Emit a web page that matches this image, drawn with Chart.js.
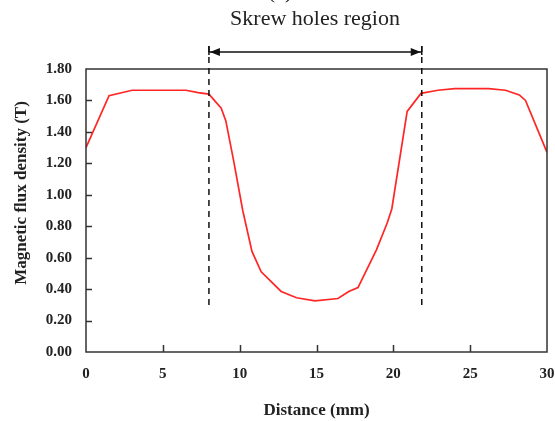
<!DOCTYPE html>
<html>
<head>
<meta charset="utf-8">
<script src="https://cdn.jsdelivr.net/npm/chart.js@4.4.0/dist/chart.umd.min.js"></script>
<style>
html, body { margin: 0; padding: 0; background: #fff; }
#wrap { width: 555px; height: 421px; }
</style>
</head>
<body>
<div id="wrap"><canvas id="fluxchart" width="555" height="421"></canvas></div>
<script>
var distance = [0, 1.5, 3.0, 6.5, 7.3, 8.0, 8.8, 9.1, 9.6, 10.2, 10.8, 11.4, 12.7, 13.7, 14.9,
                16.4, 17.1, 17.7, 18.9, 19.6, 19.9, 20.9, 21.8, 22.9, 24.0, 26.2, 27.3, 28.2, 28.6, 30.0];
var flux = [1.30, 1.63, 1.665, 1.665, 1.65, 1.64, 1.55, 1.47, 1.22, 0.90, 0.64, 0.51, 0.385, 0.345, 0.325,
            0.34, 0.385, 0.41, 0.65, 0.82, 0.91, 1.53, 1.645, 1.665, 1.675, 1.675, 1.665, 1.635, 1.60, 1.27];
var xTicks = [0, 5, 10, 15, 20, 25, 30];
var yTicks = [0, 0.2, 0.4, 0.6, 0.8, 1.0, 1.2, 1.4, 1.6, 1.8];

// skrew holes region markers
var regionStart = 8.0;
var regionEnd = 21.85;
var regionLow = 0.28;

var serif = '"Liberation Serif", "Times New Roman", serif';

const fluxCtx = document.querySelector('#fluxchart').getContext('2d');

const framePlugin = {
    id: 'frame',
    afterDraw(chart) {
        const ctx = chart.ctx;
        const area = chart.chartArea;
        const xs = chart.scales.x;
        const ys = chart.scales.y;
        ctx.save();

        // box round the plot
        ctx.strokeStyle = '#333';
        ctx.lineWidth = 1.5;
        ctx.strokeRect(area.left, area.top, area.right - area.left, area.bottom - area.top);

        // inward ticks
        ctx.beginPath();
        yTicks.slice(1, -1).forEach(function (v) {
            var py = Math.round(ys.getPixelForValue(v)) + 0.5;
            ctx.moveTo(area.left, py);
            ctx.lineTo(area.left + 6, py);
        });
        xTicks.slice(1, -1).forEach(function (v) {
            var px = Math.round(xs.getPixelForValue(v)) + 0.5;
            ctx.moveTo(px, area.bottom);
            ctx.lineTo(px, area.bottom - 7);
        });
        ctx.stroke();

        // dashed region lines
        var x1 = xs.getPixelForValue(regionStart);
        var x2 = xs.getPixelForValue(regionEnd);
        var yLow = ys.getPixelForValue(regionLow);
        ctx.strokeStyle = '#111';
        ctx.lineWidth = 1.5;
        ctx.setLineDash([6, 5]);
        ctx.beginPath();
        ctx.moveTo(x1, 46);
        ctx.lineTo(x1, yLow);
        ctx.moveTo(x2, 46);
        ctx.lineTo(x2, yLow);
        ctx.stroke();
        ctx.setLineDash([]);

        // double arrow
        var ay = 52;
        ctx.beginPath();
        ctx.moveTo(x1, ay);
        ctx.lineTo(x2, ay);
        ctx.moveTo(x1, 46);
        ctx.lineTo(x1, 55);
        ctx.moveTo(x2, 46);
        ctx.lineTo(x2, 55);
        ctx.stroke();
        ctx.fillStyle = '#111';
        ctx.beginPath();
        ctx.moveTo(x1 + 1, ay);
        ctx.lineTo(x1 + 11, ay - 4);
        ctx.lineTo(x1 + 11, ay + 4);
        ctx.closePath();
        ctx.moveTo(x2 - 1, ay);
        ctx.lineTo(x2 - 11, ay - 4);
        ctx.lineTo(x2 - 11, ay + 4);
        ctx.closePath();
        ctx.fill();

        // texts
        ctx.fillStyle = '#222';
        ctx.textAlign = 'center';
        ctx.textBaseline = 'middle';
        ctx.font = '22px ' + serif;
        ctx.fillText('Skrew holes region', 315, 19);
        ctx.textBaseline = 'alphabetic';
        ctx.fillText('(a)', 280, -2);

        ctx.translate(22, 193);
        ctx.rotate(-Math.PI / 2);
        ctx.textBaseline = 'middle';
        ctx.font = 'bold 17px ' + serif;
        ctx.fillText('Magnetic flux density (T)', 0, 0);
        ctx.restore();
    }
};

const fluxchart = new Chart(fluxCtx, {
    type: 'line',
    data: {
        datasets: [
            {
                label: 'Flux density',
                data: distance.map((d, i) => ({ x: d, y: flux[i] })),
                borderColor: '#ff2626',
                borderWidth: 1.7,
                pointRadius: 0,
                fill: false,
                tension: 0,
            },
        ],
    },
    options: {
        responsive: false,
        animation: false,
        layout: {
            padding: { top: 69, right: 0, left: 0, bottom: 0 }
        },
        plugins: {
            legend: { display: false },
            tooltip: { enabled: false }
        },
        scales: {
            x: {
                type: 'linear',
                min: 0,
                max: 30,
                afterBuildTicks: function (scale) {
                    scale.ticks = xTicks.map(v => ({ value: v }));
                },
                afterFit: function (scale) {
                    scale.height = 69;
                    scale.paddingRight = 8;
                },
                grid: { display: false, drawTicks: false },
                border: { display: false },
                ticks: {
                    padding: 13,
                    color: '#222',
                    maxRotation: 0,
                    font: { family: serif, size: 15, weight: 'bold' }
                },
                title: {
                    display: true,
                    text: 'Distance (mm)',
                    color: '#222',
                    padding: { top: 0, bottom: 0 },
                    font: { family: serif, size: 17, weight: 'bold' }
                }
            },
            y: {
                min: 0,
                max: 1.8,
                afterBuildTicks: function (scale) {
                    scale.ticks = yTicks.map(v => ({ value: v }));
                },
                afterFit: function (scale) { scale.width = 86; },
                grid: { display: false, drawTicks: false },
                border: { display: false },
                ticks: {
                    padding: 14,
                    color: '#222',
                    font: { family: serif, size: 15, weight: 'bold' },
                    callback: function (v) { return Number(v).toFixed(2); }
                }
            }
        }
    },
    plugins: [framePlugin]
});
</script>
</body>
</html>
